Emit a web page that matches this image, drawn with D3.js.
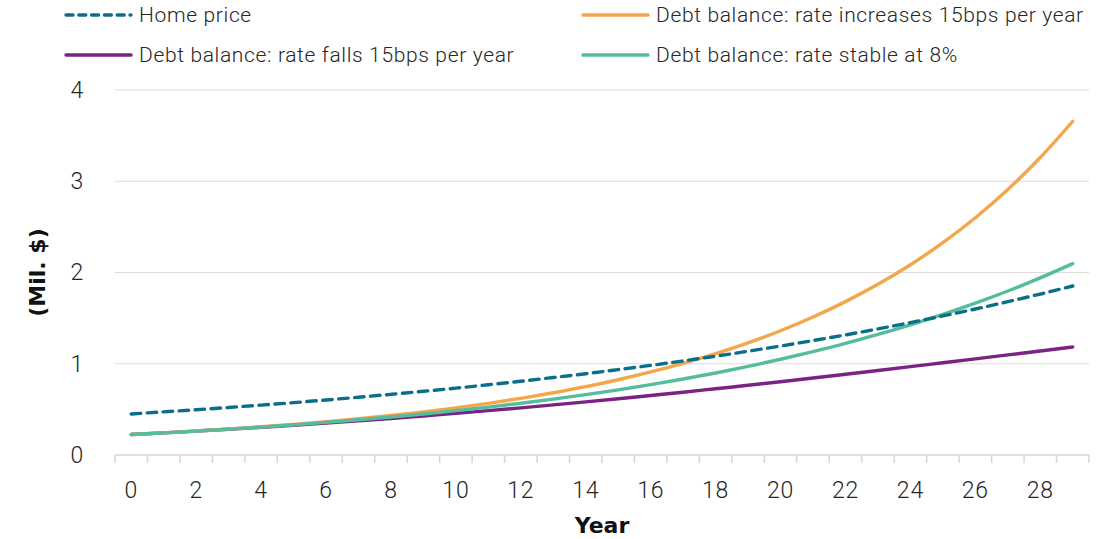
<!DOCTYPE html>
<html>
<head>
<meta charset="utf-8">
<script src="https://cdn.jsdelivr.net/npm/d3@7"></script>
<style>
  html, body { margin: 0; padding: 0; background: #fff; }
  svg { display: block; font-family: Roboto, "Noto Sans", sans-serif; }
</style>
</head>
<body>
<svg id="chart" width="1101" height="539"></svg>
<script>
// Years on the horizontal axis
const years = d3.range(0, 30);

// Values in millions of dollars
const homePrice = [0.450, 0.473, 0.496, 0.521, 0.547, 0.574, 0.603, 0.633, 0.665, 0.698,
  0.733, 0.770, 0.808, 0.849, 0.891, 0.936, 0.982, 1.031, 1.083, 1.137,
  1.194, 1.254, 1.316, 1.382, 1.451, 1.524, 1.600, 1.680, 1.764, 1.852];
const debtRateUp = [0.225, 0.243, 0.263, 0.285, 0.309, 0.335, 0.365, 0.397, 0.433, 0.473,
  0.517, 0.566, 0.621, 0.682, 0.749, 0.825, 0.910, 1.004, 1.110, 1.229,
  1.362, 1.512, 1.681, 1.871, 2.085, 2.327, 2.600, 2.909, 3.260, 3.658];
const debtRateDown = [0.225, 0.243, 0.262, 0.282, 0.304, 0.326, 0.350, 0.374, 0.400, 0.428,
  0.456, 0.486, 0.517, 0.549, 0.582, 0.616, 0.652, 0.688, 0.726, 0.764,
  0.803, 0.844, 0.885, 0.926, 0.968, 1.011, 1.054, 1.097, 1.140, 1.184];
const debtRateStable = [0.225, 0.243, 0.262, 0.283, 0.306, 0.331, 0.357, 0.386, 0.417, 0.450,
  0.486, 0.525, 0.567, 0.612, 0.661, 0.714, 0.771, 0.833, 0.899, 0.971,
  1.049, 1.133, 1.223, 1.321, 1.427, 1.541, 1.664, 1.797, 1.941, 2.097];

const yTicks = [0, 1, 2, 3, 4];

const seriesNames = [
  "Home price",
  "Debt balance: rate increases 15bps per year",
  "Debt balance: rate falls 15bps per year",
  "Debt balance: rate stable at 8%"
];

const series = [
  { name: seriesNames[0], values: homePrice, color: "#0b6f89", dashed: true },
  { name: seriesNames[1], values: debtRateUp, color: "#f3a64a", dashed: false },
  { name: seriesNames[2], values: debtRateDown, color: "#7a2384", dashed: false },
  { name: seriesNames[3], values: debtRateStable, color: "#55bd9c", dashed: false }
];

const svg = d3.select("#chart");
const plot = { left: 115, right: 1089, top: 90, bottom: 455 };

const x = d3.scaleBand().domain(years).range([plot.left, plot.right]).padding(0);
const y = d3.scaleLinear().domain([0, 4]).range([plot.bottom, plot.top]);
const cx = d => x(d) + x.bandwidth() / 2;

const tickFont = { size: 23, weight: 300, spacing: 0.8, color: "#262626" };

// Horizontal gridlines
svg.append("g")
  .selectAll("line")
  .data(yTicks.filter(t => t > 0))
  .join("line")
  .attr("x1", plot.left).attr("x2", plot.right)
  .attr("y1", d => y(d)).attr("y2", d => y(d))
  .attr("stroke", "#dcdcdc").attr("stroke-width", 1.2);

// Y axis labels
const yAxis = svg.append("g")
  .attr("transform", `translate(${plot.left - 31},0)`)
  .call(d3.axisLeft(y).tickValues(yTicks).tickFormat(d3.format("d")).tickSize(0).tickPadding(0));
yAxis.select(".domain").remove();
yAxis.selectAll("text")
  .attr("font-size", tickFont.size).attr("font-weight", tickFont.weight)
  .attr("letter-spacing", tickFont.spacing).attr("fill", tickFont.color)
  .attr("font-family", "Roboto, sans-serif");

// X axis with tick marks on category boundaries
const xAxisG = svg.append("g").attr("transform", `translate(0,${plot.bottom})`);
xAxisG.append("line")
  .attr("x1", plot.left).attr("x2", plot.right)
  .attr("y1", 0).attr("y2", 0)
  .attr("stroke", "#d6d6d6").attr("stroke-width", 1.5);
const boundaries = years.map(d => x(d)).concat([plot.right]);
xAxisG.selectAll("line.tick")
  .data(boundaries)
  .join("line")
  .attr("class", "tick")
  .attr("x1", d => d).attr("x2", d => d)
  .attr("y1", 0).attr("y2", 8)
  .attr("stroke", "#d6d6d6").attr("stroke-width", 1.5);
xAxisG.selectAll("text")
  .data(years.filter(d => d % 2 === 0))
  .join("text")
  .attr("x", d => cx(d))
  .attr("y", 43)
  .attr("text-anchor", "middle")
  .attr("font-size", tickFont.size).attr("font-weight", tickFont.weight)
  .attr("letter-spacing", tickFont.spacing).attr("fill", tickFont.color)
  .text(d => d);

// Axis titles
svg.append("text")
  .attr("x", (plot.left + plot.right) / 2)
  .attr("y", 533)
  .attr("text-anchor", "middle")
  .attr("font-family", "'DejaVu Sans', sans-serif")
  .attr("font-size", 22).attr("font-weight", 700).attr("fill", "#111")
  .text("Year");
svg.append("text")
  .attr("transform", `translate(45,${(plot.top + plot.bottom) / 2}) rotate(-90)`)
  .attr("text-anchor", "middle")
  .attr("font-family", "'DejaVu Sans', sans-serif")
  .attr("font-size", 22).attr("font-weight", 700).attr("fill", "#111")
  .text("(Mil. $)");

// Lines
const line = d3.line().x((d, i) => cx(years[i])).y(d => y(d)).curve(d3.curveMonotoneX);
svg.append("g")
  .selectAll("path")
  .data([series[2], series[1], series[3], series[0]])
  .join("path")
  .attr("d", d => line(d.values))
  .attr("fill", "none")
  .attr("stroke", d => d.color)
  .attr("stroke-width", 3.4)
  .attr("stroke-linecap", "round")
  .attr("stroke-dasharray", d => d.dashed ? "9.5,6.5" : null);

// Legend
const legendPos = [
  { x: 66, y: 15 },
  { x: 583, y: 15 },
  { x: 66, y: 55 },
  { x: 583, y: 55 }
];
const legend = svg.append("g")
  .selectAll("g")
  .data(series)
  .join("g")
  .attr("transform", (d, i) => `translate(${legendPos[i].x},${legendPos[i].y})`);
legend.append("line")
  .attr("x1", 0).attr("x2", 65).attr("y1", 0).attr("y2", 0)
  .attr("stroke", d => d.color).attr("stroke-width", 3.4)
  .attr("stroke-linecap", "round")
  .attr("stroke-dasharray", d => d.dashed ? "7,5.8" : null);
legend.append("text")
  .attr("x", 73).attr("y", 0).attr("dy", "0.35em")
  .attr("font-size", 21).attr("font-weight", 300)
  .attr("letter-spacing", 0.65).attr("fill", "#262626")
  .text(d => d.name);
</script>
</body>
</html>
